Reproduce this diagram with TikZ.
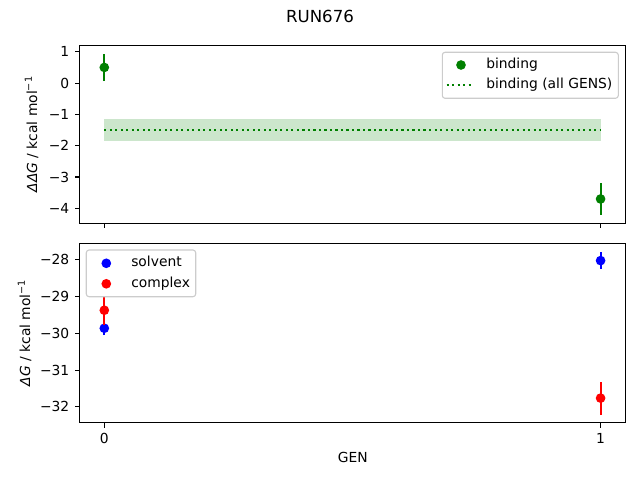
\documentclass[tikz,border=0pt]{standalone}
\usepackage{fontspec}
\setmainfont{DejaVu Sans}
\definecolor{mplgreen}{RGB}{0,128,0}
\tikzset{
	axbox/.style={line width=0.8pt},
	errbar/.style={line width=1.5pt},
	dotline/.style={mplgreen,line width=1.5pt,dash pattern=on 1.5pt off 2.475pt},
	lgd/.style={draw=black!20,fill=white,fill opacity=0.8,rounded corners=2pt,line width=0.8pt},
}
\begin{document}
\begin{tikzpicture}[x=0.01in,y=-0.01in,inner sep=0pt]
		\useasboundingbox (0,0) rectangle (640,480);
		\node (title) at (320,16.5) {\fontsize{12}{14}\selectfont RUN676};
		% top panel: binding
		\begin{scope}[shift={(104.3,83.1)},x=4.96in,y=0.313in]
		\fill[mplgreen,opacity=0.2] (0,-1.86) rectangle (1,-1.14);
		\draw[dotline] (0,-1.5)--(1,-1.5);
		\draw[errbar,mplgreen] (0,0.06)--(0,0.94) (1,-4.2)--(1,-3.2);
		\fill[mplgreen] (0,0.5) circle (3.5pt) (1,-3.7) circle (3.5pt);
		\draw[axbox] (-0.05,-4.47) rectangle (1.05,1.21);
		\foreach \v/\t in {1/1,0/0,-1/−1,-2/−2,-3/−3,-4/−4}
			\draw[axbox] (-0.05,\v)--++(-3.5pt,0) node[left=3.5pt]{\t};
		\foreach \g in {0,1}
			\draw[axbox] (\g,-4.47)--++(0,-3.5pt);
		\end{scope}
		% bottom panel: solvent and complex
		\begin{scope}[shift={(104.3,-769.7)},x=4.96in,y=0.3675in]
		\draw[errbar,blue] (0,-30.05)--(0,-29.67) (1,-28.25)--(1,-27.79);
		\fill[blue] (0,-29.86) circle (3.5pt) (1,-28.02) circle (3.5pt);
		\draw[errbar,red] (0,-29.77)--(0,-28.97) (1,-32.21)--(1,-31.31);
		\fill[red] (0,-29.37) circle (3.5pt) (1,-31.76) circle (3.5pt);
		\draw[axbox] (-0.05,-32.435) rectangle (1.05,-27.565);
		\foreach \v/\t in {-28/−28,-29/−29,-30/−30,-31/−31,-32/−32}
			\draw[axbox] (-0.05,\v)--++(-3.5pt,0) node[left=3.5pt]{\t};
		\foreach \g in {0,1}
			\draw[axbox] (\g,-32.435)--++(0,-3.5pt) node[below=3.5pt]{\g};
		\end{scope}
		% legends
		\draw[lgd] (442.3,52.3) rectangle (618.3,98.3);
		\fill[mplgreen] (461,65) circle (3.5pt);
		\node[anchor=base west] (lbind) at (486,68.4) {binding};
		\draw[dotline] (446.7,85.3)--(474,85.3);
		\node[anchor=base west] (lall) at (486,88.7) {binding (all GENS)};
		\draw[lgd] (86.3,250) rectangle (195.7,296.7);
		\fill[blue] (106.3,263.3) circle (3.5pt);
		\node[anchor=base west] (lsolv) at (131,266.7) {solvent};
		\fill[red] (106.3,283.8) circle (3.5pt);
		\node[anchor=base west] (lcplx) at (131,287.2) {complex};
		% axis labels
		\node[rotate=90,anchor=base] (ylabtop) at (37,134.2) {{\itshape ΔΔG} / kcal mol\textsuperscript{−1}};
		\node[rotate=90,anchor=base] (ylabbot) at (30,332.8) {{\itshape ΔG} / kcal mol\textsuperscript{−1}};
		\node (xlab) at (352.8,457.3) {GEN};
\end{tikzpicture}
\end{document}
